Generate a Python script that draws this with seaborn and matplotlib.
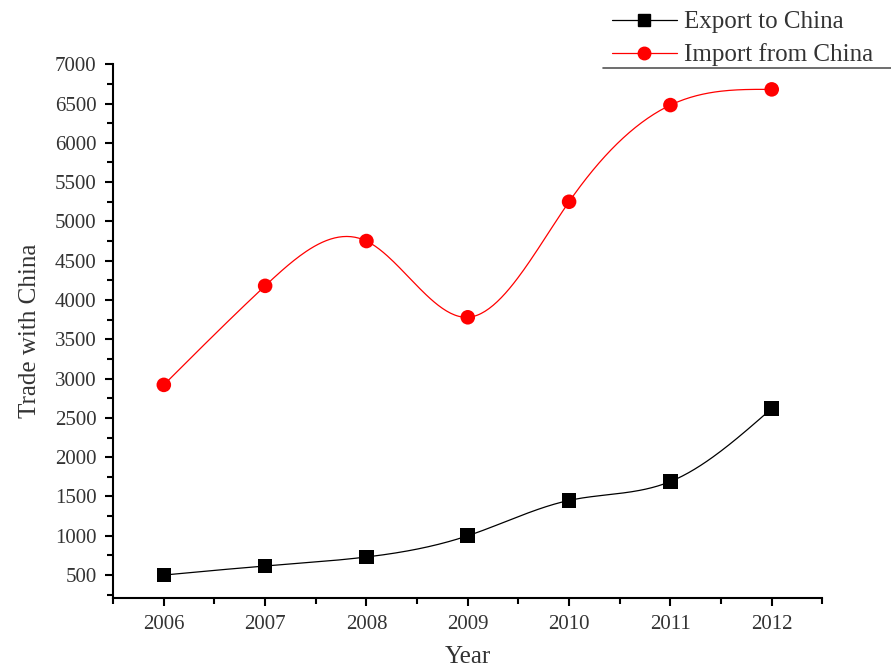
import numpy as np
import pandas as pd
import matplotlib
matplotlib.use("Agg")
import matplotlib.pyplot as plt
from matplotlib.lines import Line2D
from matplotlib.ticker import MultipleLocator
import seaborn as sns

years = [2006, 2007, 2008, 2009, 2010, 2011, 2012]
export_to_china = [500, 615, 730, 1000, 1450, 1690, 2620]
import_from_china = [2920, 4180, 4750, 3780, 5250, 6480, 6680]
series_names = ["Export to China", "Import from China"]
y_ticks = list(range(500, 7001, 500))


def natural_spline(x, y, n=300):
    x = np.asarray(x, float)
    y = np.asarray(y, float)
    k = len(x)
    h = np.diff(x)
    A = np.zeros((k, k))
    b = np.zeros(k)
    A[0, 0] = A[-1, -1] = 1
    for i in range(1, k - 1):
        A[i, i - 1] = h[i - 1]
        A[i, i] = 2 * (h[i - 1] + h[i])
        A[i, i + 1] = h[i]
        b[i] = 3 * ((y[i + 1] - y[i]) / h[i] - (y[i] - y[i - 1]) / h[i - 1])
    c = np.linalg.solve(A, b)
    xs = np.linspace(x[0], x[-1], n)
    ys = np.empty_like(xs)
    for j, xv in enumerate(xs):
        i = min(np.searchsorted(x, xv, side="right") - 1, k - 2)
        dx = xv - x[i]
        bi = (y[i + 1] - y[i]) / h[i] - h[i] * (2 * c[i] + c[i + 1]) / 3
        di = (c[i + 1] - c[i]) / (3 * h[i])
        ys[j] = y[i] + bi * dx + c[i] * dx ** 2 + di * dx ** 3
    return xs, ys


sns.set_theme(style="ticks")
plt.rcParams["font.family"] = ["Liberation Serif", "DejaVu Serif"]
plt.rcParams["text.color"] = "#333333"

fig = plt.figure(figsize=(8.91, 6.69), dpi=100)
ax = fig.add_axes([0.127, 0.106, 0.796, 0.798])

df = pd.DataFrame({
    "Year": years * 2,
    "Value": export_to_china + import_from_china,
    "Series": [series_names[0]] * len(years) + [series_names[1]] * len(years),
})

colors = {"Export to China": "black", "Import from China": "#ff0000"}
markers = {"Export to China": "s", "Import from China": "o"}

for name, vals in zip(series_names, [export_to_china, import_from_china]):
    xs, ys = natural_spline(years, vals)
    ax.plot(xs, ys, color=colors[name], lw=0.9, zorder=2)

sns.scatterplot(data=df, x="Year", y="Value", hue="Series", style="Series",
                palette=colors, markers=markers, s=110, edgecolor="none",
                legend=False, ax=ax, zorder=3)

ax.set_xlim(2005.5, 2012.5)
ax.set_ylim(207, 7000)
ax.set_xticks(years)
ax.set_xticklabels([str(y) for y in years])
ax.set_yticks(y_ticks)
ax.xaxis.set_minor_locator(MultipleLocator(0.5))
ax.yaxis.set_minor_locator(MultipleLocator(250))
ax.tick_params(which="major", direction="out", length=6, width=1.5,
               labelsize=15, labelcolor="#333333", color="black")
ax.tick_params(axis="x", which="major", pad=6)
ax.tick_params(axis="y", which="major", pad=6)
ax.tick_params(which="minor", direction="out", length=4, width=1.5, color="black")
for s in ["top", "right"]:
    ax.spines[s].set_visible(False)
for s in ["left", "bottom"]:
    ax.spines[s].set_linewidth(1.5)
    ax.spines[s].set_color("black")

ax.set_xlabel("Year", fontsize=18, color="#333333", labelpad=9)
ax.set_ylabel("Trade with China", fontsize=18, color="#333333", labelpad=10)
ax.grid(False)

handles = [
    Line2D([], [], color="black", lw=0.9, marker="s", markersize=9),
    Line2D([], [], color="#ff0000", lw=0.9, marker="o", markersize=9),
]
fig.legend(handles, series_names, loc="upper right",
           bbox_to_anchor=(1.0, 1.01), frameon=False, fontsize=18,
           handlelength=2.6, handletextpad=0.3, labelspacing=0.4,
           borderaxespad=0.3)
fig.add_artist(Line2D([603 / 891, 1.0], [1 - 68 / 669, 1 - 68 / 669],
                      transform=fig.transFigure, color="#555555", lw=1.2))

fig.savefig("out.png", dpi=100)
